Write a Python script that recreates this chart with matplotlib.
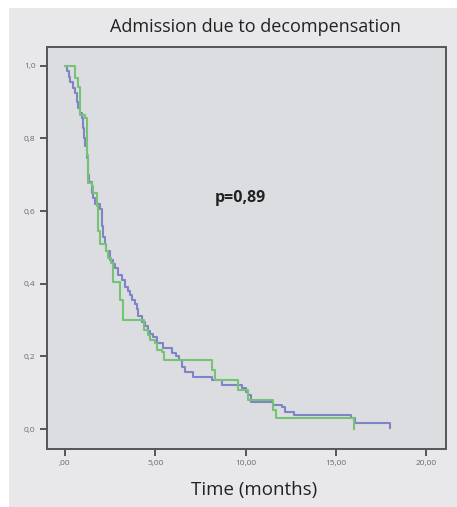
import matplotlib.pyplot as plt
from matplotlib.patches import Rectangle

# Kaplan-Meier steps (time in months, survival after the step)
blue_t = [0, 0.12, 0.2, 0.3, 0.42, 0.55, 0.65, 0.75, 0.85, 0.95, 1.0, 1.05, 1.1, 1.2, 1.29,
          1.35, 1.48, 1.57, 1.66, 1.94, 2.03, 2.08, 2.12, 2.2, 2.3, 2.5, 2.65, 2.77, 2.95,
          3.14, 3.32, 3.5, 3.6, 3.69, 3.88, 3.97, 4.06, 4.24, 4.43, 4.6, 4.7, 4.89, 5.08,
          5.44, 5.95, 6.15, 6.3, 6.46, 6.64, 7.1, 8.12, 8.72, 9.8, 10.0, 10.15, 10.33,
          11.53, 12.0, 12.2, 12.7, 15.85, 16.05, 18.0]
blue_s = [1.0, 0.985, 0.97, 0.955, 0.94, 0.925, 0.90, 0.885, 0.87, 0.855, 0.83, 0.80, 0.78,
          0.745, 0.70, 0.68, 0.65, 0.635, 0.62, 0.605, 0.585, 0.56, 0.53, 0.51, 0.49, 0.466,
          0.455, 0.443, 0.424, 0.41, 0.392, 0.38, 0.37, 0.355, 0.345, 0.33, 0.31, 0.296,
          0.285, 0.27, 0.262, 0.252, 0.236, 0.222, 0.21, 0.20, 0.19, 0.172, 0.158, 0.144,
          0.135, 0.121, 0.112, 0.103, 0.094, 0.075, 0.066, 0.061, 0.048, 0.039, 0.03,
          0.016, 0.004]

green_t = [0, 0.55, 0.7, 0.83, 1.1, 1.2, 1.3, 1.48, 1.57, 1.75, 1.85, 1.94, 2.3, 2.4, 2.55,
           2.67, 3.05, 3.2, 4.4, 4.6, 4.7, 4.98, 5.08, 5.35, 5.5, 8.12, 8.3, 9.6, 10.15,
           11.5, 11.7, 16.0]
green_s = [1.0, 0.966, 0.943, 0.865, 0.856, 0.755, 0.677, 0.668, 0.649, 0.613, 0.544, 0.51,
           0.49, 0.47, 0.456, 0.406, 0.355, 0.30, 0.273, 0.259, 0.245, 0.236, 0.218, 0.213,
           0.19, 0.163, 0.135, 0.107, 0.08, 0.052, 0.03, 0.0]

x_ticks = [0, 5, 10, 15, 20]
x_labels = [',00', '5,00', '10,00', '15,00', '20,00']
y_ticks = [0.0, 0.2, 0.4, 0.6, 0.8, 1.0]
y_labels = ['0,0', '0,2', '0,4', '0,6', '0,8', '1,0']

plt.rcParams['font.family'] = ['Open Sans', 'DejaVu Sans']

fig = plt.figure(figsize=(4.57, 5.07), dpi=100)
fig.patch.set_facecolor('white')
# grey panel behind the chart (white strip left and top)
fig.patches.append(Rectangle((9 / 457, 0), 1, (507 - 8) / 507, transform=fig.transFigure,
                             facecolor='#e8e8ea', edgecolor='none', zorder=-10))

ax = fig.add_axes([0.1018, 0.1144, 0.874, 0.793])
ax.set_facecolor('#dcdde0')

ax.step(blue_t, blue_s, where='post', color='#7f84c8', lw=1.5)
ax.step(green_t, green_s, where='post', color='#74c474', lw=1.5)

ax.set_xlim(-1.02, 21.1)
ax.set_ylim(-0.055, 1.052)
ax.set_xticks(x_ticks)
ax.set_xticklabels(x_labels)
ax.set_yticks(y_ticks)
ax.set_yticklabels(y_labels)
ax.tick_params(direction='out', length=5, width=1.3, color='#4a4a4a',
               labelsize=6, labelcolor='#6a6a6a', pad=3)

for s in ax.spines.values():
    s.set_color('#555555')
    s.set_linewidth(1.4)

ax.text(9.7, 0.636, 'p=0,89', fontsize=11.5, fontweight='bold', color='#222222',
        ha='center', va='center')

fig.text(255 / 457, 1 - 27 / 507, 'Admission due to decompensation', fontsize=13,
         color='#222222', ha='center', va='center')
fig.text(254 / 457, 1 - 490 / 507, 'Time (months)', fontsize=13.5,
         color='#222222', ha='center', va='center')

plt.savefig('out.png', dpi=100, facecolor=fig.get_facecolor())
